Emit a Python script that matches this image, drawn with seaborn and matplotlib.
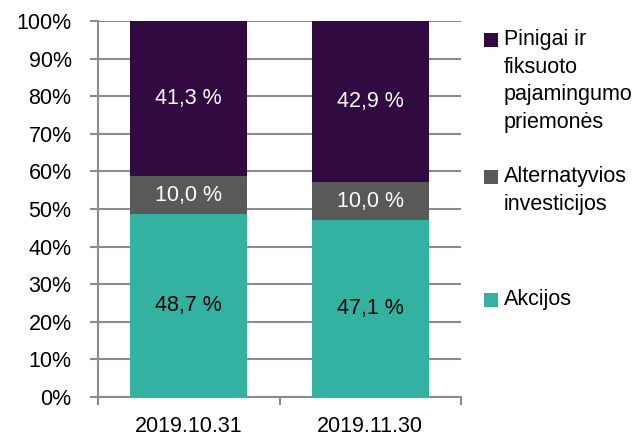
import numpy as np
import pandas as pd
import matplotlib
matplotlib.use('Agg')
import matplotlib.pyplot as plt
import seaborn as sns
from matplotlib.patches import Rectangle

dates = ["2019.10.31", "2019.11.30"]
akcijos = [48.7, 47.1]
alternatyvios = [10.0, 10.0]
pinigai = [41.3, 42.9]

series_names = ["Akcijos", "Alternatyvios\ninvesticijos", "Pinigai ir\nfiksuoto\npajamingumo\npriemonės"]
colors = ["#33b1a1", "#595959", "#320a42"]
text_colors = ["black", "white", "white"]

sns.set_theme(style="white")
plt.rcParams['font.family'] = ['Liberation Sans', 'DejaVu Sans']
FS = 15.5

fig = plt.figure(figsize=(6.39, 4.40), dpi=100)
ax = fig.add_axes([98 / 639, 1 - 397 / 440, (461 - 98) / 639, (397 - 21) / 440])

df = pd.DataFrame({"date": dates, "akc": akcijos, "alt": alternatyvios, "pin": pinigai})
bottom = np.zeros(len(dates))
for col, color, tc in zip(["akc", "alt", "pin"], colors, text_colors):
    sns.barplot(data=df, x="date", y=col, color=color, width=0.645,
                bottom=bottom, ax=ax, saturation=1, linewidth=0, zorder=3)
    for i, v in enumerate(df[col]):
        ax.text(i, bottom[i] + v / 2, f"{v:.1f} %".replace(".", ","),
                ha="center", va="center", color=tc, fontsize=FS, zorder=4)
    bottom = bottom + df[col].values

ax.set_xlim(-0.5, 1.5)
ax.set_ylim(0, 100)
ax.set_yticks(np.arange(0, 101, 10))
ax.set_yticklabels([f"{t}%" for t in range(0, 101, 10)], fontsize=FS, color="black")
ax.set_xticks(range(len(dates)))
ax.set_xticklabels(dates, fontsize=FS, color="black")
ax.set_xticks([-0.5, 0.5, 1.5], minor=True)
ax.tick_params(axis="x", which="major", length=0, pad=14)
ax.tick_params(axis="x", which="minor", length=6, width=1.5, color="#8c8c8c", bottom=True)
ax.tick_params(axis="y", length=6, width=1.5, color="#8c8c8c", pad=13, left=True)
ax.yaxis.grid(True, color="#8c8c8c", linewidth=1.5, zorder=0)
ax.set_axisbelow(True)
ax.set_xlabel("")
ax.set_ylabel("")
for s in ["top", "right"]:
    ax.spines[s].set_visible(False)
for s in ["left", "bottom"]:
    ax.spines[s].set_color("#8c8c8c")
    ax.spines[s].set_linewidth(1.5)

# legenda (rankiniu budu, kaip originale)
legend_top = [33, 170, 293]
for name, color, y in zip(series_names[::-1], colors[::-1], legend_top):
    fig.add_artist(Rectangle((484 / 639, 1 - (y + 14) / 440), 14 / 639, 14 / 440,
                             transform=fig.transFigure, color=color, linewidth=0))
    fig.text(504 / 639, 1 - (y - 4) / 440, name, fontsize=FS, va="top", ha="left",
             color="black", linespacing=1.42)

fig.savefig("out.png", dpi=100)
